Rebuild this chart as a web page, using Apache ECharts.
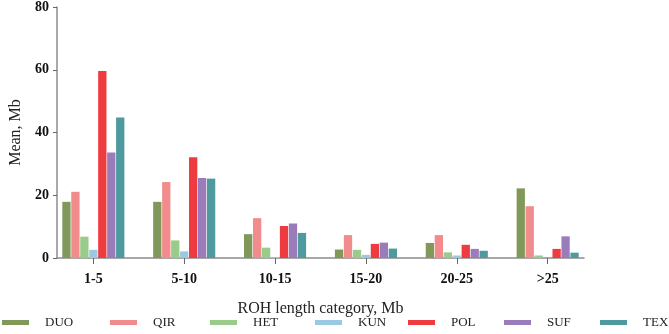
<!DOCTYPE html>
<html style="height: 100%">
  <head>
    <meta charset="UTF-8" />
    <title>ROH length</title>
    <script src="https://cdn.jsdelivr.net/npm/echarts/dist/echarts.min.js"></script>
  </head>
  <body style="height: 100%; margin: 0; background: #fff">
    <div id="main" style="width: 669px; height: 334px"></div>
    <script>
      var categories = ['1-5', '5-10', '10-15', '15-20', '20-25', '>25'];
      var breeds = ['DUO', 'QIR', 'HET', 'KUN', 'POL', 'SUF', 'TEX'];
      var colors = ['#80995a', '#f28b8b', '#99cc88', '#99c9e3', '#ee3b40', '#9b7cbb', '#4e9a9e'];

      var DUO = [17.9, 17.9, 7.6, 2.7, 4.8, 22.2];
      var QIR = [21.1, 24.2, 12.7, 7.3, 7.3, 16.5];
      var HET = [6.8, 5.6, 3.3, 2.6, 1.8, 0.8];
      var KUN = [2.6, 2.1, 0.3, 1.0, 0.8, 0];
      var POL = [59.6, 32.1, 10.2, 4.5, 4.2, 2.9];
      var SUF = [33.6, 25.5, 11.0, 4.9, 2.9, 6.9];
      var TEX = [44.8, 25.3, 8.0, 3.0, 2.3, 1.7];
      var values = [DUO, QIR, HET, KUN, POL, SUF, TEX];

      var serif = 'Liberation Serif';
      var tickPos = categories.map(function (c, i) { return i; });
      // legend icon left edges
      var legendLeft = [2, 110, 210, 315, 408, 504, 600];

      var myChart = echarts.init(document.getElementById('main'));

      var seriesList = breeds.map(function (name, k) {
        return {
          name: name,
          type: 'bar',
          barWidth: 8.3,
          barGap: '8%',
          itemStyle: { color: colors[k] },
          data: values[k].map(function (v, i) { return [i, v]; })
        };
      });

      var legends = breeds.map(function (name, k) {
        return {
          data: [name],
          left: legendLeft[k],
          top: 316,
          padding: 0,
          itemWidth: 27,
          itemHeight: 5,
          icon: 'rect',
          textStyle: {
            fontFamily: serif,
            fontSize: 13,
            color: '#222',
            padding: [0, 0, 0, 11]
          }
        };
      });

      var option = {
        animation: false,
        color: colors,
        grid: { left: 57, right: 85, top: 7, bottom: 76 },
        legend: legends,
        xAxis: {
          type: 'value',
          min: -0.4,
          max: 5.4,
          name: 'ROH length category, Mb',
          nameLocation: 'middle',
          nameGap: 43,
          nameTextStyle: { fontFamily: serif, fontSize: 16, color: '#222' },
          splitLine: { show: false },
          axisLine: { show: true, lineStyle: { color: '#8c8c8c', width: 1.5 } },
          axisTick: { show: true, length: 6, customValues: tickPos, lineStyle: { color: '#666' } },
          axisLabel: {
            customValues: tickPos,
            margin: 14,
            fontFamily: serif,
            fontSize: 14,
            fontWeight: 'bold',
            color: '#111',
            formatter: function (v) { return categories[Math.round(v)]; }
          }
        },
        yAxis: {
          type: 'value',
          min: 0,
          max: 80,
          interval: 20,
          name: 'Mean, Mb',
          nameLocation: 'middle',
          nameGap: 31,
          nameTextStyle: { fontFamily: serif, fontSize: 16, color: '#222' },
          splitLine: { show: false },
          axisLine: { show: true, onZero: false, lineStyle: { color: '#8c8c8c', width: 1.5 } },
          axisTick: { show: true, length: 4, lineStyle: { color: '#666' } },
          axisLabel: {
            margin: 8,
            fontFamily: serif,
            fontSize: 14,
            fontWeight: 'bold',
            color: '#111'
          }
        },
        series: seriesList
      };

      myChart.setOption(option);
    </script>
  </body>
</html>
